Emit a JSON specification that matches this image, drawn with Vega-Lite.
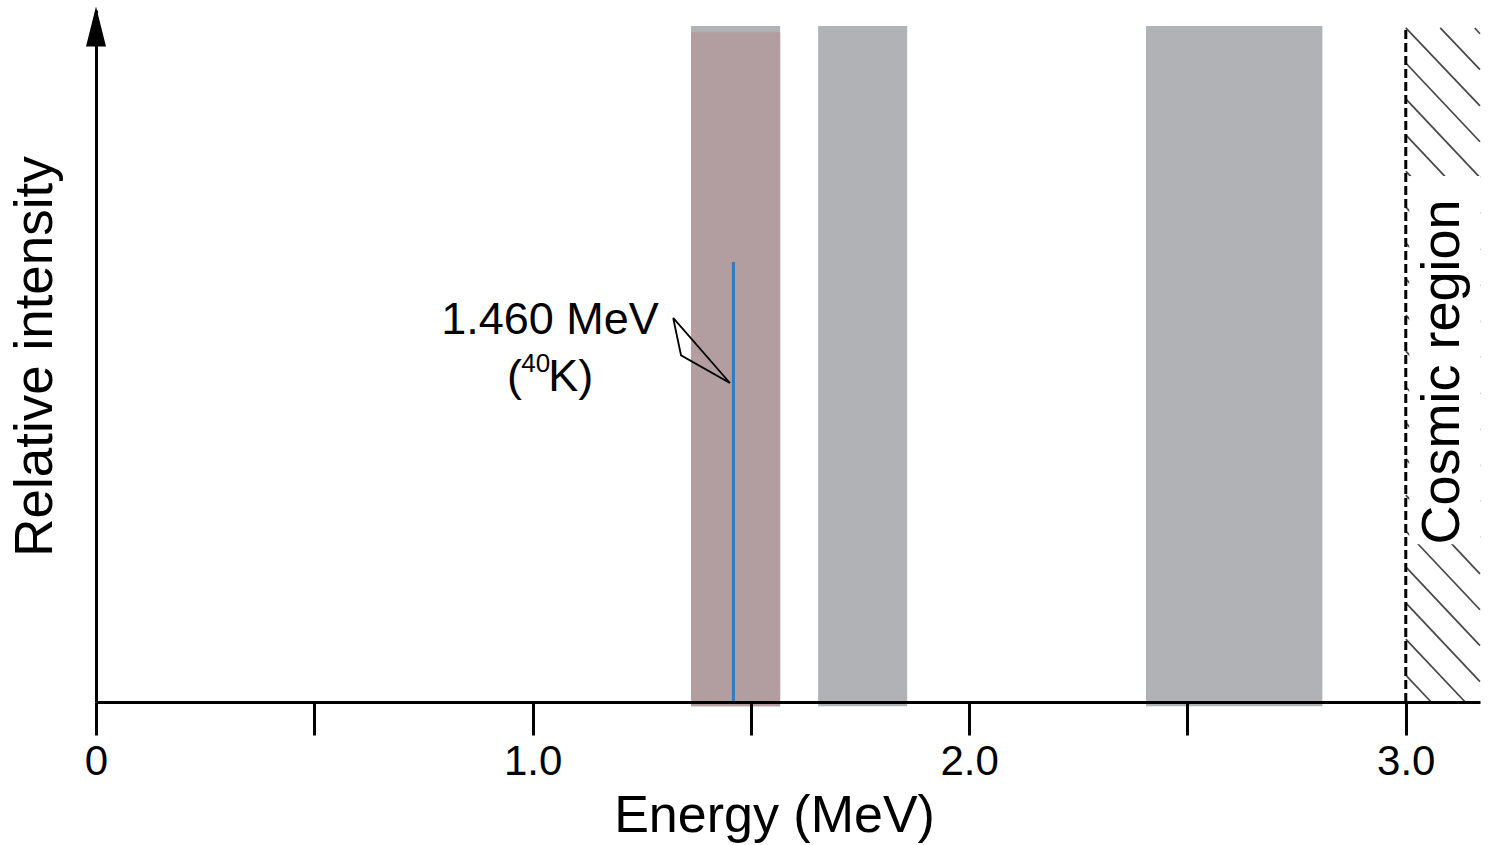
{
  "$schema": "https://vega.github.io/schema/vega-lite/v6.json",
  "width": 1384,
  "height": 692,
  "autosize": {"type": "none"},
  "padding": {"left": 96, "top": 10, "right": 8, "bottom": 143},
  "background": "white",
  "config": {"view": {"stroke": null}, "font": "Liberation Sans"},
  "layer": [
    {
      "data": {"values": [
        {"band": "K", "lo": 1.363, "hi": 1.567, "bot": -0.006, "top": 0.977},
        {"band": "U", "lo": 1.654, "hi": 1.858, "bot": -0.006, "top": 0.977},
        {"band": "Th", "lo": 2.405, "hi": 2.809, "bot": -0.006, "top": 0.977}
      ]},
      "mark": {"type": "rect", "color": "#b1b2b5"},
      "encoding": {
        "x": {
          "field": "lo", "type": "quantitative",
          "scale": {"domain": [0, 3.17], "nice": false, "zero": false},
          "axis": {
            "title": "Energy (MeV)",
            "values": [0, 0.5, 1, 1.5, 2, 2.5, 3],
            "labelExpr": "datum.value == 0 ? '0' : (datum.value % 1 == 0 ? format(datum.value, '.1f') : '')",
            "grid": false,
            "tickSize": 33, "tickWidth": 3, "tickColor": "black",
            "domainWidth": 3, "domainColor": "black",
            "labelFontSize": 42, "labelColor": "black", "labelPadding": 6,
            "labelFlush": false, "labelOverlap": false,
            "titleFontSize": 52, "titleFontWeight": "normal", "titleColor": "black",
            "titlePadding": 8, "titleX": 678, "titleAlign": "center",
            "zindex": 1
          }
        },
        "x2": {"field": "hi"},
        "y": {
          "field": "bot", "type": "quantitative",
          "scale": {"domain": [0, 1], "nice": false, "zero": false},
          "axis": {
            "title": "Relative intensity",
            "ticks": false, "labels": false, "grid": false,
            "domainWidth": 3, "domainColor": "black",
            "titleFontSize": 53, "titleFontWeight": "normal", "titleColor": "black",
            "titlePadding": 34,
            "zindex": 1
          }
        },
        "y2": {"field": "top"}
      }
    },
    {
      "data": {"values": [
        {"band": "K window", "lo": 1.363, "hi": 1.567, "bot": -0.006, "top": 0.968}
      ]},
      "mark": {"type": "rect", "color": "#b29ea0"},
      "encoding": {
        "x": {"field": "lo", "type": "quantitative"},
        "x2": {"field": "hi"},
        "y": {"field": "bot", "type": "quantitative"},
        "y2": {"field": "top"}
      }
    },
    {
      "data": {"values": [{"e": 1.46, "lo": 0, "hi": 0.636}]},
      "mark": {"type": "rule", "color": "#2f7cc0", "strokeWidth": 3},
      "encoding": {
        "x": {"field": "e", "type": "quantitative"},
        "y": {"field": "lo", "type": "quantitative"},
        "y2": {"field": "hi"}
      }
    },
    {
      "data": {"values": [
        {"xa": 3.158, "ya": 0.974, "xb": 3.17, "yb": 0.9657},
        {"xa": 3.079, "ya": 0.974, "xb": 3.17, "yb": 0.9137},
        {"xa": 3.0, "ya": 0.974, "xb": 3.17, "yb": 0.8616},
        {"xa": 3.0, "ya": 0.9234, "xb": 3.17, "yb": 0.8096},
        {"xa": 3.0, "ya": 0.8714, "xb": 3.17, "yb": 0.7576},
        {"xa": 3.0, "ya": 0.8194, "xb": 3.17, "yb": 0.7056},
        {"xa": 3.0, "ya": 0.7673, "xb": 3.17, "yb": 0.6535},
        {"xa": 3.0, "ya": 0.7153, "xb": 3.17, "yb": 0.6015},
        {"xa": 3.0, "ya": 0.6633, "xb": 3.17, "yb": 0.5495},
        {"xa": 3.0, "ya": 0.6113, "xb": 3.17, "yb": 0.4975},
        {"xa": 3.0, "ya": 0.5592, "xb": 3.17, "yb": 0.4454},
        {"xa": 3.0, "ya": 0.5072, "xb": 3.17, "yb": 0.3934},
        {"xa": 3.0, "ya": 0.4552, "xb": 3.17, "yb": 0.3414},
        {"xa": 3.0, "ya": 0.4032, "xb": 3.17, "yb": 0.2894},
        {"xa": 3.0, "ya": 0.3512, "xb": 3.17, "yb": 0.2374},
        {"xa": 3.0, "ya": 0.2991, "xb": 3.17, "yb": 0.1853},
        {"xa": 3.0, "ya": 0.2471, "xb": 3.17, "yb": 0.1333},
        {"xa": 3.0, "ya": 0.1951, "xb": 3.17, "yb": 0.0813},
        {"xa": 3.0, "ya": 0.1431, "xb": 3.17, "yb": 0.0293},
        {"xa": 3.0, "ya": 0.091, "xb": 3.136, "yb": 0},
        {"xa": 3.0, "ya": 0.039, "xb": 3.058, "yb": 0}
      ]},
      "mark": {"type": "rule", "color": "#4a4a4a", "strokeWidth": 1.8},
      "encoding": {
        "x": {"field": "xa", "type": "quantitative"},
        "y": {"field": "ya", "type": "quantitative"},
        "x2": {"field": "xb"},
        "y2": {"field": "yb"}
      }
    },
    {
      "data": {"values": [{"lo": 3.008, "hi": 3.17, "bot": 0.228, "top": 0.76}]},
      "mark": {"type": "rect", "color": "white"},
      "encoding": {
        "x": {"field": "lo", "type": "quantitative"},
        "x2": {"field": "hi"},
        "y": {"field": "bot", "type": "quantitative"},
        "y2": {"field": "top"}
      }
    },
    {
      "data": {"values": [{"e": 3.0, "lo": 0, "hi": 0.974}]},
      "mark": {"type": "rule", "color": "black", "strokeWidth": 3, "strokeDash": [9, 4]},
      "encoding": {
        "x": {"field": "e", "type": "quantitative"},
        "y": {"field": "lo", "type": "quantitative"},
        "y2": {"field": "hi"}
      }
    },
    {
      "data": {"values": [{"label": "Cosmic region", "e": 3.086, "v": 0.477}]},
      "mark": {"type": "text", "angle": 270, "fontSize": 54, "color": "black", "align": "center", "baseline": "middle"},
      "encoding": {
        "x": {"field": "e", "type": "quantitative"},
        "y": {"field": "v", "type": "quantitative"},
        "text": {"field": "label"}
      }
    },
    {
      "data": {"values": [
        {"label": "1.460 MeV", "e": 1.04, "v": 0.552}
      ]},
      "mark": {"type": "text", "fontSize": 45, "color": "black", "align": "center", "baseline": "middle"},
      "encoding": {
        "x": {"field": "e", "type": "quantitative"},
        "y": {"field": "v", "type": "quantitative"},
        "text": {"field": "label"}
      }
    },
    {
      "data": {"values": [
        {"label": "(", "e": 0.976, "v": 0.47}
      ]},
      "mark": {"type": "text", "fontSize": 45, "color": "black", "align": "right", "baseline": "middle"},
      "encoding": {
        "x": {"field": "e", "type": "quantitative"},
        "y": {"field": "v", "type": "quantitative"},
        "text": {"field": "label"}
      }
    },
    {
      "data": {"values": [
        {"label": "40", "e": 0.974, "v": 0.488}
      ]},
      "mark": {"type": "text", "fontSize": 26, "color": "black", "align": "left", "baseline": "middle"},
      "encoding": {
        "x": {"field": "e", "type": "quantitative"},
        "y": {"field": "v", "type": "quantitative"},
        "text": {"field": "label"}
      }
    },
    {
      "data": {"values": [
        {"label": "K)", "e": 1.036, "v": 0.47}
      ]},
      "mark": {"type": "text", "fontSize": 45, "color": "black", "align": "left", "baseline": "middle"},
      "encoding": {
        "x": {"field": "e", "type": "quantitative"},
        "y": {"field": "v", "type": "quantitative"},
        "text": {"field": "label"}
      }
    },
    {
      "data": {"values": [
        {"o": 1, "e": 1.322, "v": 0.555},
        {"o": 2, "e": 1.34, "v": 0.501},
        {"o": 3, "e": 1.452, "v": 0.461},
        {"o": 4, "e": 1.322, "v": 0.555}
      ]},
      "mark": {"type": "line", "color": "black", "strokeWidth": 1.8, "strokeJoin": "miter"},
      "encoding": {
        "x": {"field": "e", "type": "quantitative"},
        "y": {"field": "v", "type": "quantitative"},
        "order": {"field": "o"}
      }
    },
    {
      "data": {"values": [{"e": 0, "v": 0.976}]},
      "mark": {"type": "point", "shape": "M-0.5,1L0,-1L0.5,1Z", "size": 1600, "filled": true, "color": "black", "opacity": 1},
      "encoding": {
        "x": {"field": "e", "type": "quantitative"},
        "y": {"field": "v", "type": "quantitative"}
      }
    }
  ]
}
